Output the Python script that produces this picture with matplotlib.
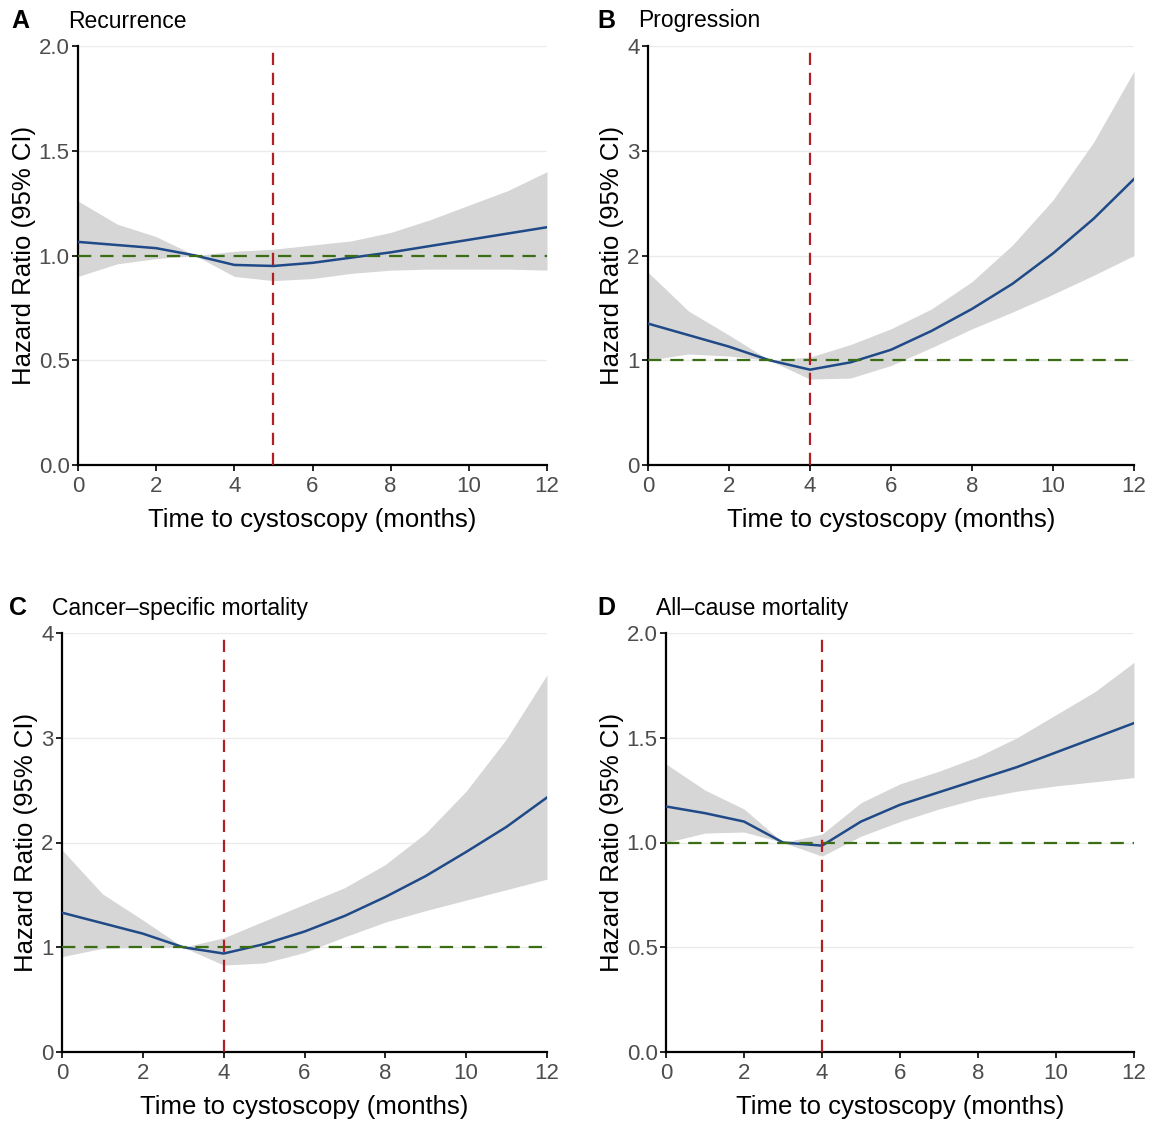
import numpy as np
import matplotlib.pyplot as plt

plt.rcParams['font.family'] = ['Liberation Sans', 'DejaVu Sans']

months = np.arange(0, 13)

# A - Recurrence
hr_a = [1.065, 1.05, 1.035, 1.0, 0.955, 0.95, 0.965, 0.99, 1.015, 1.045, 1.075, 1.105, 1.135]
up_a = [1.26, 1.15, 1.09, 1.0, 1.02, 1.03, 1.05, 1.07, 1.11, 1.17, 1.24, 1.31, 1.40]
lo_a = [0.90, 0.96, 0.985, 1.0, 0.90, 0.88, 0.89, 0.915, 0.93, 0.935, 0.935, 0.935, 0.93]

# B - Progression
hr_b = [1.35, 1.24, 1.13, 1.0, 0.91, 0.98, 1.10, 1.28, 1.49, 1.73, 2.02, 2.35, 2.73]
up_b = [1.84, 1.47, 1.24, 1.0, 1.03, 1.15, 1.30, 1.49, 1.75, 2.10, 2.53, 3.08, 3.76]
lo_b = [1.0, 1.06, 1.04, 1.0, 0.82, 0.83, 0.95, 1.12, 1.30, 1.46, 1.63, 1.81, 2.0]

# C - Cancer-specific mortality
hr_c = [1.33, 1.23, 1.13, 1.0, 0.94, 1.03, 1.15, 1.30, 1.48, 1.68, 1.91, 2.15, 2.43]
up_c = [1.93, 1.51, 1.26, 1.0, 1.09, 1.25, 1.41, 1.57, 1.79, 2.09, 2.49, 2.99, 3.60]
lo_c = [0.91, 0.99, 1.0, 1.0, 0.83, 0.85, 0.95, 1.10, 1.24, 1.35, 1.45, 1.55, 1.65]

# D - All-cause mortality
hr_d = [1.172, 1.14, 1.10, 1.0, 0.985, 1.10, 1.18, 1.24, 1.30, 1.36, 1.43, 1.50, 1.57]
up_d = [1.375, 1.25, 1.16, 1.0, 1.04, 1.19, 1.28, 1.34, 1.41, 1.50, 1.61, 1.72, 1.86]
lo_d = [1.0, 1.045, 1.05, 1.0, 0.935, 1.03, 1.10, 1.16, 1.21, 1.245, 1.27, 1.29, 1.31]

letters = ['A', 'B', 'C', 'D']
titles = ['Recurrence', 'Progression', 'Cancer\u2013specific mortality', 'All\u2013cause mortality']
cutoffs = [5, 4, 4, 4]
ymax = [2.0, 4, 4, 2.0]
yticks = [[0.0, 0.5, 1.0, 1.5, 2.0], [0, 1, 2, 3, 4], [0, 1, 2, 3, 4], [0.0, 0.5, 1.0, 1.5, 2.0]]
ylabels = [['0.0', '0.5', '1.0', '1.5', '2.0'], ['0', '1', '2', '3', '4'],
           ['0', '1', '2', '3', '4'], ['0.0', '0.5', '1.0', '1.5', '2.0']]
hrs = [hr_a, hr_b, hr_c, hr_d]
ups = [up_a, up_b, up_c, up_d]
los = [lo_a, lo_b, lo_c, lo_d]

W, H = 1162, 1121
fig = plt.figure(figsize=(W / 100, H / 100), dpi=100)

# axes boxes in pixels: left, top, right, bottom
boxes = [(78, 46, 547, 465), (648, 46, 1134, 465), (62, 633, 547, 1052), (666, 633, 1134, 1052)]
letter_x = [11, 597, 9, 597]
title_y = [21, 21, 608, 608]

for i in range(4):
    l, t, r, b = boxes[i]
    ax = fig.add_axes([l / W, 1 - b / H, (r - l) / W, (b - t) / H])
    ax.fill_between(months, los[i], ups[i], color='#d6d6d6', linewidth=0, zorder=2)
    ax.plot(months, hrs[i], color='#1f4a87', lw=1.8, zorder=3)
    ax.axhline(1, color='#3b6e14', lw=1.6, ls=(0, (6, 4)), zorder=4)
    ax.axvline(cutoffs[i], color='#b01f24', lw=1.6, ls=(0, (5.5, 3.5)), zorder=4)
    ax.set_xlim(0, 12)
    ax.set_ylim(0, ymax[i])
    ax.set_xticks(np.arange(0, 13, 2))
    ax.set_yticks(yticks[i])
    ax.set_yticklabels(ylabels[i])
    ax.grid(axis='y', color='#ebebeb', lw=1.0, zorder=0)
    ax.set_axisbelow(True)
    for s in ['top', 'right']:
        ax.spines[s].set_visible(False)
    for s in ['left', 'bottom']:
        ax.spines[s].set_linewidth(1.6)
        ax.spines[s].set_color('black')
    ax.tick_params(axis='both', labelsize=16, labelcolor='#4d4d4d', length=4, width=1.2)
    ax.tick_params(axis='x', pad=4)
    ax.tick_params(axis='y', pad=2)
    ax.set_xlabel('Time to cystoscopy (months)', fontsize=18.5, labelpad=8)
    ax.set_ylabel('Hazard Ratio (95% CI)', fontsize=18.5, labelpad=2)
    fig.text((l - 10) / W, 1 - title_y[i] / H, titles[i], fontsize=16.5, va='center', ha='left')
    fig.text(letter_x[i] / W, 1 - title_y[i] / H, letters[i], fontsize=18, fontweight='bold',
             va='center', ha='left')

fig.savefig('out.png', dpi=100)
